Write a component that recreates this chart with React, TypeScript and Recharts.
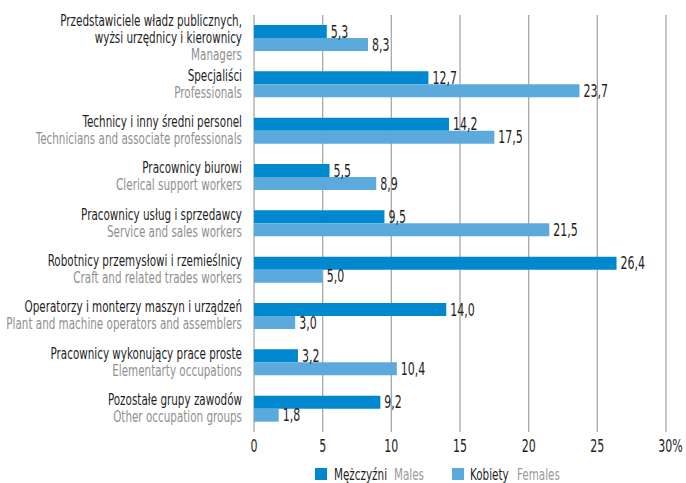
import React from 'react';
import { BarChart, Bar, XAxis, YAxis, CartesianGrid, LabelList } from 'recharts';

const plLabels: string[][] = [
  ['Przedstawiciele władz publicznych,', 'wyżsi urzędnicy i kierownicy'],
  ['Specjaliści'],
  ['Technicy i inny średni personel'],
  ['Pracownicy biurowi'],
  ['Pracownicy usług i sprzedawcy'],
  ['Robotnicy przemysłowi i rzemieślnicy'],
  ['Operatorzy i monterzy maszyn i urządzeń'],
  ['Pracownicy wykonujący prace proste'],
  ['Pozostałe grupy zawodów'],
];

const enLabels = [
  'Managers',
  'Professionals',
  'Technicians and associate professionals',
  'Clerical support workers',
  'Service and sales workers',
  'Craft and related trades workers',
  'Plant and machine operators and assemblers',
  'Elementarty occupations',
  'Other occupation groups',
];

const males = [5.3, 12.7, 14.2, 5.5, 9.5, 26.4, 14.0, 3.2, 9.2];
const females = [8.3, 23.7, 17.5, 8.9, 21.5, 5.0, 3.0, 10.4, 1.8];

const xTicks = [0, 5, 10, 15, 20, 25, 30];

const MALE = '#0088cf';
const FEMALE = '#5caadc';
const DARK = '#1e1e1e';
const GREY = '#8f8f8f';
// condensed look: DejaVu Sans Condensed squeezed horizontally
const FONT = '"DejaVu Sans Condensed", "DejaVu Sans", sans-serif';
const SQUEEZE = 0.7;

const data = plLabels.map((pl, i) => ({
  key: String(i),
  pl,
  en: enLabels[i],
  males: males[i],
  females: females[i],
}));

const fmt = (v: any) => Number(v).toFixed(1).replace('.', ',');

const SText = ({ x, y, anchor = 'start', fill = DARK, size = 16.5, sx = SQUEEZE, children }: any) => (
  <text
    transform={`translate(${x},${y}) scale(${sx},1)`}
    textAnchor={anchor}
    fontFamily={FONT}
    fontSize={size}
    fill={fill}
  >
    {children}
  </text>
);

const CategoryTick = (props: any) => {
  const { x, y, payload } = props;
  const row = data[Number(payload.value)];
  const lines = [...row.pl, row.en];
  const step = 17;
  const first = y + 4.5 - ((lines.length - 1) * step) / 2;
  return (
    <g>
      {lines.map((t, i) => (
        <SText key={i} x={x} y={first + i * step} anchor="end" fill={i < row.pl.length ? DARK : GREY}>
          {t}
        </SText>
      ))}
    </g>
  );
};

const ValueTick = (props: any) => {
  const { x, y, payload } = props;
  const last = payload.value === 30;
  return (
    <SText x={last ? x + 4.5 : x} y={y + 12} anchor="middle" size={17} sx={0.72}>
      {payload.value}
      {last ? '%' : ''}
    </SText>
  );
};

const BarValue = (props: any) => {
  const { x, y, width, height, value } = props;
  return (
    <SText x={x + width + 4} y={y + height / 2 + 6} size={17} sx={0.72}>
      {fmt(value)}
    </SText>
  );
};

export default function App() {
  return (
    <div style={{ position: 'absolute', left: 0, top: 0, width: 686, height: 483, background: '#fff' }}>
      <BarChart
        width={686}
        height={483}
        data={data}
        layout="vertical"
        margin={{ top: 15, right: 20, bottom: 31, left: 0 }}
        barGap={0}
        barSize={13}
      >
        <CartesianGrid horizontal={false} stroke="#a8a8a8" strokeWidth={1.3} />
        <XAxis
          type="number"
          domain={[0, 30]}
          ticks={xTicks}
          axisLine={false}
          tickLine={false}
          height={20}
          tick={<ValueTick />}
          interval={0}
        />
        <YAxis
          type="category"
          dataKey="key"
          width={254}
          axisLine={false}
          tickLine={false}
          tickSize={0}
          tickMargin={12}
          tick={<CategoryTick />}
          interval={0}
        />
        <Bar dataKey="males" fill={MALE} isAnimationActive={false}>
          <LabelList dataKey="males" content={<BarValue />} />
        </Bar>
        <Bar dataKey="females" fill={FEMALE} isAnimationActive={false}>
          <LabelList dataKey="females" content={<BarValue />} />
        </Bar>
      </BarChart>
      <svg width={686} height={30} style={{ position: 'absolute', left: 0, top: 453 }}>
        <rect x={315} y={15} width={12} height={12} fill={MALE} />
        <SText x={334} y={27}>Mężczyźni</SText>
        <SText x={394} y={27} fill="#9a9a9a">Males</SText>
        <rect x={452} y={15} width={12} height={12} fill={FEMALE} />
        <SText x={470} y={27}>Kobiety</SText>
        <SText x={517} y={27} fill="#9a9a9a">Females</SText>
      </svg>
    </div>
  );
}
